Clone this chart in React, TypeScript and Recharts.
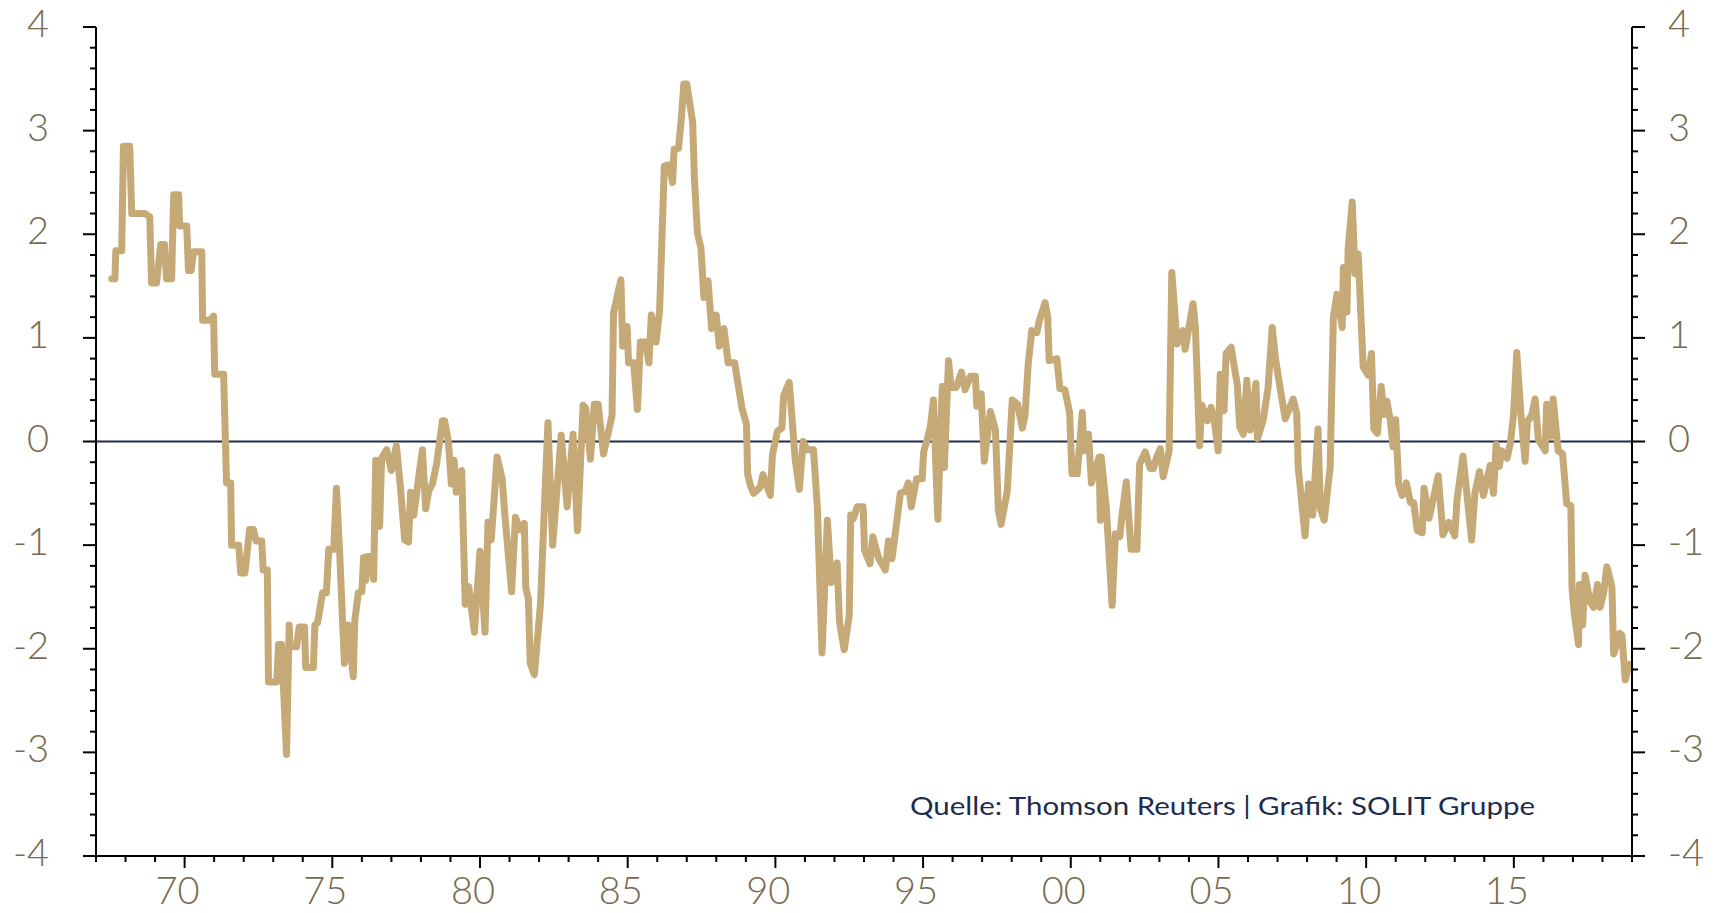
import React from 'react';
import { LineChart, Line, XAxis, YAxis, ReferenceLine } from 'recharts';

// time axis (decimal years) and index values
const dates = [
  1967.53, 1967.64, 1967.67, 1967.87, 1967.93, 1968.14, 1968.21, 1968.65, 1968.82, 1968.88,
  1969.05, 1969.19, 1969.32, 1969.39, 1969.56, 1969.63, 1969.8, 1969.83, 1970.07, 1970.13,
  1970.22, 1970.3, 1970.58, 1970.61, 1970.85, 1970.98, 1971.02, 1971.32, 1971.42, 1971.56,
  1971.59, 1971.83, 1971.9, 1972.04, 1972.2, 1972.33, 1972.42, 1972.61, 1972.66, 1972.8,
  1972.84, 1973.12, 1973.18, 1973.28, 1973.45, 1973.54, 1973.57, 1973.79, 1973.88, 1974.06,
  1974.1, 1974.36, 1974.41, 1974.5, 1974.67, 1974.8, 1974.88, 1975.05, 1975.14, 1975.25,
  1975.41, 1975.53, 1975.71, 1975.76, 1975.88, 1976.0, 1976.06, 1976.13, 1976.2, 1976.3,
  1976.4, 1976.47, 1976.6, 1976.67, 1976.84, 1977.0, 1977.17, 1977.3, 1977.45, 1977.58,
  1977.65, 1977.76, 1977.87, 1978.05, 1978.16, 1978.27, 1978.39, 1978.53, 1978.73, 1978.8,
  1978.93, 1979.03, 1979.12, 1979.2, 1979.38, 1979.5, 1979.62, 1979.81, 1980.0, 1980.17,
  1980.27, 1980.38, 1980.58, 1980.75, 1980.85, 1981.07, 1981.2, 1981.35, 1981.5, 1981.55,
  1981.64, 1981.7, 1981.84, 1982.05, 1982.2, 1982.3, 1982.46, 1982.75, 1982.95, 1983.15,
  1983.3, 1983.49, 1983.58, 1983.74, 1983.87, 1984.0, 1984.18, 1984.47, 1984.52, 1984.77,
  1984.83, 1984.98, 1985.03, 1985.2, 1985.33, 1985.43, 1985.6, 1985.72, 1985.8, 1985.96,
  1986.08, 1986.24, 1986.4, 1986.52, 1986.57, 1986.72, 1986.82, 1986.9, 1987.0, 1987.2,
  1987.26, 1987.36, 1987.48, 1987.58, 1987.72, 1987.84, 1988.0, 1988.1, 1988.26, 1988.4,
  1988.62, 1988.87, 1989.02, 1989.06, 1989.15, 1989.26, 1989.49, 1989.58, 1989.83, 1989.9,
  1990.07, 1990.22, 1990.28, 1990.47, 1990.67, 1990.81, 1990.94, 1991.07, 1991.29, 1991.42,
  1991.58, 1991.76, 1991.89, 1992.09, 1992.17, 1992.33, 1992.5, 1992.55, 1992.63, 1992.77,
  1992.97, 1993.02, 1993.2, 1993.3, 1993.5, 1993.72, 1993.83, 1993.95, 1994.23, 1994.4,
  1994.5, 1994.6, 1994.78, 1994.97, 1995.02, 1995.14, 1995.25, 1995.35, 1995.5, 1995.65,
  1995.72, 1995.86, 1995.95, 1996.12, 1996.3, 1996.42, 1996.6, 1996.77, 1996.82, 1996.97,
  1997.07, 1997.28, 1997.45, 1997.55, 1997.64, 1997.85, 1998.02, 1998.2, 1998.36, 1998.45,
  1998.56, 1998.68, 1998.85, 1998.93, 1999.13, 1999.22, 1999.27, 1999.53, 1999.63, 1999.8,
  1999.96, 2000.04, 2000.22, 2000.39, 2000.45, 2000.6, 2000.7, 2000.96, 2001.0, 2001.03,
  2001.2, 2001.4, 2001.51, 2001.66, 2001.74, 2001.88, 2002.04, 2002.24, 2002.33, 2002.52,
  2002.69, 2002.8, 2002.91, 2003.03, 2003.13, 2003.33, 2003.42, 2003.6, 2003.8, 2003.87,
  2004.14, 2004.22, 2004.36, 2004.44, 2004.63, 2004.75, 2004.86, 2004.99, 2005.06, 2005.19,
  2005.26, 2005.43, 2005.64, 2005.72, 2005.84, 2005.96, 2006.07, 2006.27, 2006.32, 2006.51,
  2006.68, 2006.82, 2006.93, 2007.09, 2007.26, 2007.53, 2007.65, 2007.7, 2007.93, 2008.05,
  2008.19, 2008.37, 2008.45, 2008.58, 2008.78, 2008.89, 2009.01, 2009.19, 2009.23, 2009.35,
  2009.39, 2009.53, 2009.62, 2009.73, 2009.9, 2010.07, 2010.18, 2010.26, 2010.38, 2010.51,
  2010.6, 2010.7, 2010.82, 2010.91, 2011.0, 2011.1, 2011.22, 2011.36, 2011.5, 2011.61,
  2011.73, 2011.9, 2011.96, 2012.13, 2012.26, 2012.44, 2012.6, 2012.8, 2013.0, 2013.08,
  2013.28, 2013.57, 2013.68, 2013.84, 2013.97, 2014.2, 2014.31, 2014.4, 2014.51, 2014.59,
  2014.77, 2014.88, 2014.99, 2015.1, 2015.24, 2015.38, 2015.46, 2015.61, 2015.72, 2015.83,
  2016.06, 2016.11, 2016.25, 2016.33, 2016.5, 2016.65, 2016.79, 2016.93, 2016.97, 2017.05,
  2017.19, 2017.22, 2017.33, 2017.41, 2017.58, 2017.7, 2017.83, 2017.92, 2018.04, 2018.15,
  2018.32, 2018.38, 2018.49, 2018.58, 2018.66, 2018.77, 2018.9, 2019.0,
];

const values = [
  1.57, 1.57, 1.84, 1.84, 2.85, 2.85, 2.2, 2.2, 2.17, 1.53,
  1.53, 1.9, 1.9, 1.57, 1.57, 2.38, 2.38, 2.08, 2.08, 1.65,
  1.65, 1.83, 1.83, 1.17, 1.17, 1.21, 0.65, 0.65, -0.4, -0.4,
  -1.0, -1.0, -1.27, -1.27, -0.85, -0.85, -0.96, -0.96, -1.24, -1.24,
  -2.32, -2.32, -1.96, -1.96, -3.02, -1.77, -1.98, -1.98, -1.79, -1.79,
  -2.18, -2.18, -1.77, -1.75, -1.46, -1.46, -1.04, -1.04, -0.45, -1.08,
  -2.14, -1.77, -2.27, -1.73, -1.46, -1.45, -1.12, -1.34, -1.11, -1.11,
  -1.33, -0.18, -0.82, -0.16, -0.08, -0.28, -0.04, -0.42, -0.95, -0.97,
  -0.49, -0.71, -0.46, -0.08, -0.65, -0.47, -0.41, -0.22, 0.2, 0.2,
  0.0, -0.41, -0.18, -0.49, -0.28, -1.57, -1.4, -1.84, -1.06, -1.84,
  -0.78, -0.95, -0.15, -0.36, -0.74, -1.45, -0.73, -0.85, -0.79, -1.41,
  -1.52, -2.14, -2.25, -1.56, -0.49, 0.18, -1.0, 0.06, -0.63, 0.07,
  -0.86, 0.35, 0.32, -0.17, 0.36, 0.36, -0.12, 0.25, 1.24, 1.56,
  0.92, 1.11, 0.76, 0.76, 0.31, 0.96, 0.96, 0.76, 1.22, 0.96,
  1.26, 2.66, 2.67, 2.5, 2.82, 2.83, 3.13, 3.45, 3.45, 3.08,
  2.54, 2.01, 1.87, 1.39, 1.55, 1.09, 1.22, 0.92, 1.09, 0.76,
  0.76, 0.32, 0.17, -0.31, -0.42, -0.5, -0.44, -0.32, -0.52, -0.13,
  0.1, 0.13, 0.44, 0.57, -0.17, -0.46, 0.0, -0.08, -0.08, -0.63,
  -2.04, -0.76, -1.36, -1.17, -1.74, -2.01, -1.68, -0.71, -0.75, -0.63,
  -0.63, -1.05, -1.18, -0.92, -1.13, -1.24, -0.96, -1.13, -0.5, -0.48,
  -0.4, -0.63, -0.36, -0.36, -0.1, 0.02, 0.15, 0.4, -0.75, 0.53,
  -0.25, 0.78, 0.52, 0.52, 0.67, 0.5, 0.63, 0.63, 0.34, 0.46,
  -0.19, 0.29, 0.11, -0.67, -0.8, -0.48, 0.4, 0.36, 0.13, 0.25,
  0.75, 1.07, 1.05, 1.16, 1.34, 1.2, 0.78, 0.8, 0.51, 0.5,
  0.28, -0.31, -0.31, 0.28, -0.09, 0.07, -0.4, -0.15, -0.76, -0.15,
  -0.63, -1.58, -0.89, -0.92, -0.7, -0.39, -1.04, -1.04, -0.22, -0.1,
  -0.26, -0.26, -0.15, -0.07, -0.34, -0.09, 1.63, 0.94, 1.07, 0.89,
  1.33, 1.1, -0.04, 0.35, 0.2, 0.33, 0.2, -0.09, 0.65, 0.3,
  0.85, 0.91, 0.54, 0.14, 0.07, 0.59, 0.11, 0.56, 0.03, 0.2,
  0.52, 1.1, 0.8, 0.51, 0.22, 0.41, 0.27, -0.25, -0.91, -0.41,
  -0.71, 0.12, -0.65, -0.76, -0.25, 1.2, 1.42, 1.1, 1.68, 1.25,
  1.86, 2.31, 1.62, 1.81, 0.72, 0.64, 0.85, 0.12, 0.08, 0.53,
  0.26, 0.39, 0.2, -0.05, 0.21, -0.41, -0.52, -0.4, -0.59, -0.59,
  -0.86, -0.88, -0.45, -0.74, -0.57, -0.33, -0.9, -0.78, -0.91, -0.55,
  -0.14, -0.95, -0.5, -0.29, -0.52, -0.23, -0.5, -0.03, -0.24, -0.09,
  -0.16, -0.02, 0.26, 0.86, 0.26, -0.19, 0.19, 0.26, 0.41, 0.02,
  -0.09, 0.36, 0.05, 0.41, -0.09, -0.12, -0.6, -0.62, -1.41, -1.67,
  -1.96, -1.38, -1.77, -1.29, -1.55, -1.6, -1.38, -1.6, -1.46, -1.21,
  -1.4, -2.05, -1.95, -1.85, -1.87, -2.3, -2.15, -2.15,
];

// one tick per year, labelled every five years
const xTicks = Array.from({ length: 53 }, (_, i) => 1967 + i);
// minor ticks every 0.2, labelled at whole numbers
const yTicks = Array.from({ length: 41 }, (_, i) => (i - 20) / 5);

const chartData = dates.map((t, i) => ({ t, v: values[i] }));

const LABEL_COLOR = '#786a50';
const LINE_COLOR = '#c5aa78';
const NAVY = '#1d2b4f';
const labelFont = { fontFamily: 'Lato, "Liberation Sans", sans-serif', fontWeight: 300, fontSize: 38 };

const isWhole = (v: number) => Math.abs(v - Math.round(v)) < 1e-6;

const LeftTick = (props: any) => {
  const { x, y, payload } = props;
  const major = isWhole(payload.value);
  return (
    <g>
      <line x1={x} x2={x - (major ? 13 : 6)} y1={y} y2={y} stroke="#000" strokeWidth={2} />
      {major && (
        <text x={x - 47} y={y + 10} textAnchor="end" fill={LABEL_COLOR} {...labelFont}>
          {Math.round(payload.value)}
        </text>
      )}
    </g>
  );
};

const RightTick = (props: any) => {
  const { x, y, payload } = props;
  const major = isWhole(payload.value);
  return (
    <g>
      <line x1={x} x2={x + (major ? 13 : 6)} y1={y} y2={y} stroke="#000" strokeWidth={2} />
      {major && (
        <text x={x + 36} y={y + 10} textAnchor="start" fill={LABEL_COLOR} {...labelFont}>
          {Math.round(payload.value)}
        </text>
      )}
    </g>
  );
};

const YearTick = (props: any) => {
  const { x, y, payload } = props;
  const major = payload.value % 5 === 0;
  return (
    <g>
      <line x1={x} x2={x} y1={y} y2={y + (major ? 12 : 6)} stroke="#000" strokeWidth={2} />
      {major && (
        <text x={x - 7} y={y + 48} textAnchor="middle" fill={LABEL_COLOR} {...labelFont}>
          {String(payload.value % 100).padStart(2, '0')}
        </text>
      )}
    </g>
  );
};

const App: React.FC = () => {
  return (
    <div style={{ position: 'absolute', left: 0, top: 0, width: 1717, height: 913, background: '#fff' }}>
      <LineChart
        width={1717}
        height={913}
        data={chartData}
        margin={{ top: 27, right: 0, left: 0, bottom: 0 }}
      >
        <XAxis
          dataKey="t"
          type="number"
          domain={[1967, 2019]}
          ticks={xTicks}
          interval={0}
          height={57}
          tickSize={0}
          tickMargin={0}
          tickLine={false}
          axisLine={{ stroke: '#000', strokeWidth: 2 }}
          tick={<YearTick />}
          allowDataOverflow
        />
        <YAxis
          yAxisId="left"
          orientation="left"
          domain={[-4, 4]}
          ticks={yTicks}
          interval={0}
          width={96}
          tickSize={0}
          tickMargin={0}
          tickLine={false}
          axisLine={{ stroke: '#000', strokeWidth: 2 }}
          tick={<LeftTick />}
          allowDataOverflow
        />
        <YAxis
          yAxisId="right"
          orientation="right"
          domain={[-4, 4]}
          ticks={yTicks}
          interval={0}
          width={85}
          tickSize={0}
          tickMargin={0}
          tickLine={false}
          axisLine={{ stroke: '#000', strokeWidth: 2 }}
          tick={<RightTick />}
          allowDataOverflow
        />
        <ReferenceLine y={0} yAxisId="left" stroke={NAVY} strokeWidth={2} />
        <Line
          yAxisId="left"
          type="linear"
          dataKey="v"
          stroke={LINE_COLOR}
          strokeWidth={7}
          strokeLinejoin="round"
          strokeLinecap="round"
          dot={false}
          activeDot={false}
          isAnimationActive={false}
        />
      </LineChart>
      <svg
        width={1717}
        height={913}
        style={{ position: 'absolute', left: 0, top: 0, pointerEvents: 'none' }}
      >
        <text
          x={1535}
          y={815}
          textAnchor="end"
          fill={NAVY}
          fontFamily='Lato, "Liberation Sans", sans-serif'
          fontSize={25}
          textLength={625}
          lengthAdjust="spacingAndGlyphs"
        >
          Quelle: Thomson Reuters | Grafik: SOLIT Gruppe
        </text>
      </svg>
    </div>
  );
};

export default App;
